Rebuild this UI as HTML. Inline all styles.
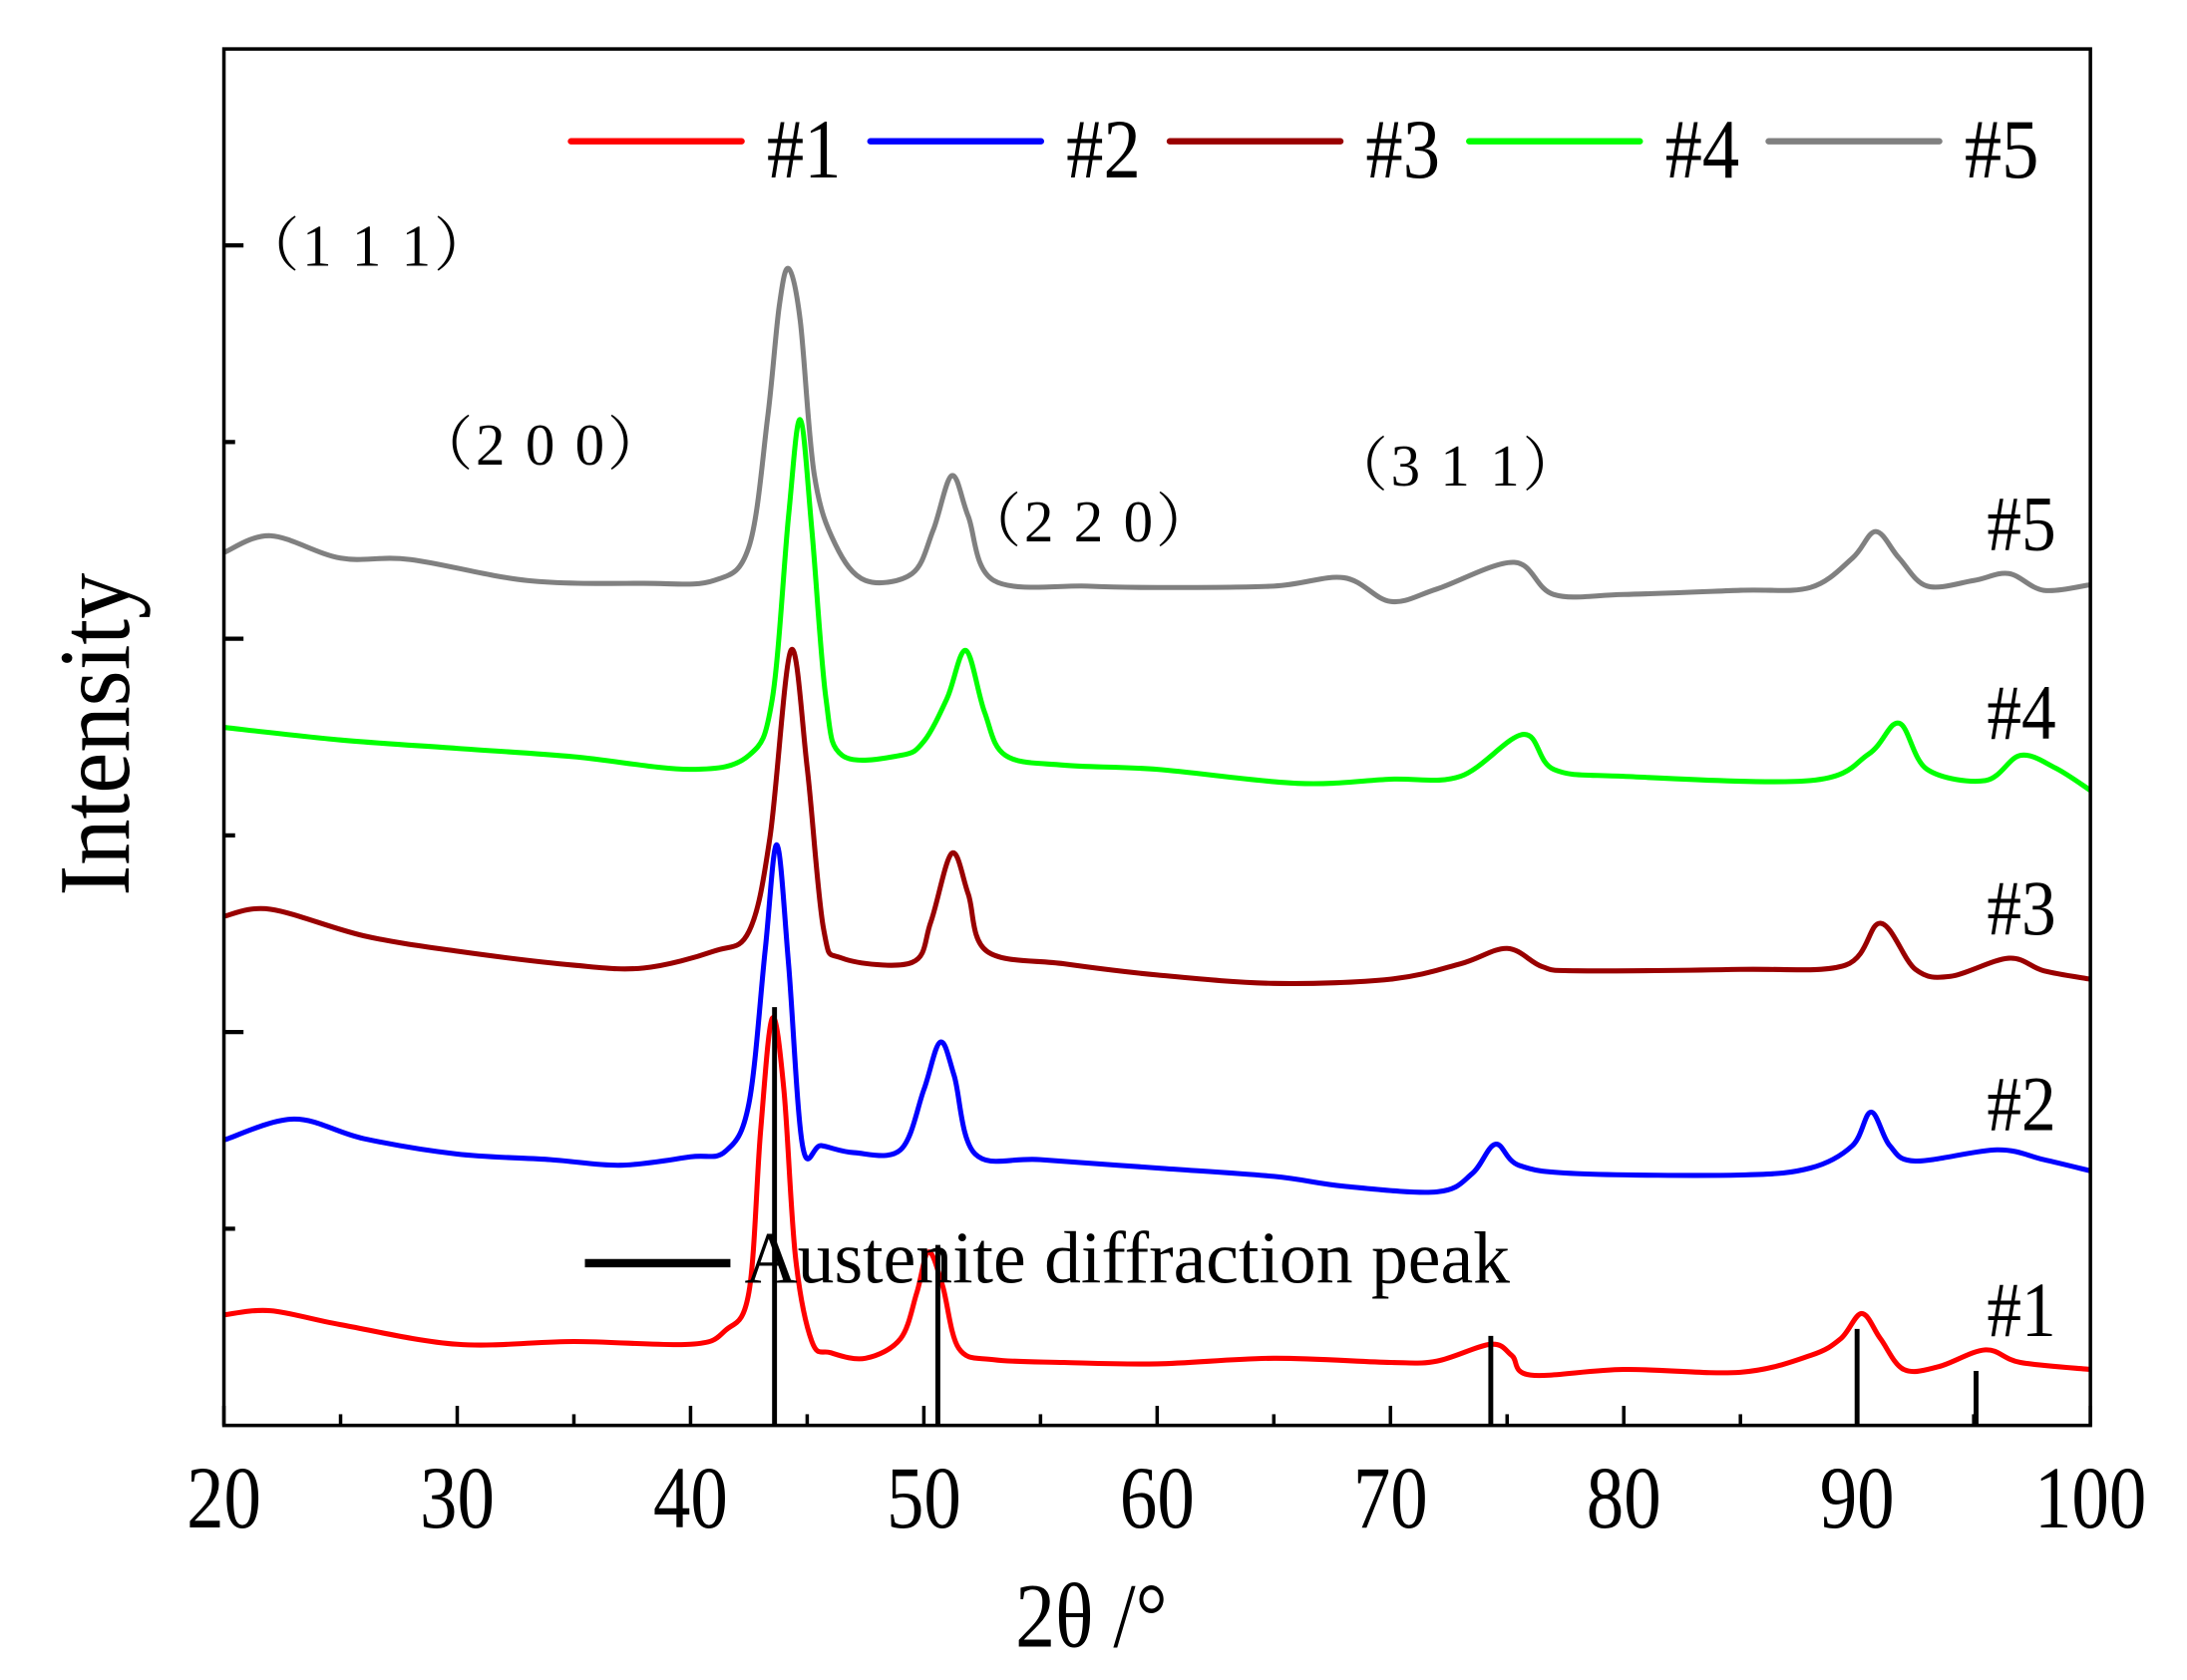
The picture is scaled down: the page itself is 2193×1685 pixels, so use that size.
<!DOCTYPE html>
<html><head><meta charset="utf-8"><style>
html,body{margin:0;padding:0;background:#fff;}
svg{display:block;font-family:"Liberation Serif","Noto Serif CJK SC",serif;}
</style></head><body>
<svg id="chart" width="2193" height="1685" viewBox="0 0 1563 1201" xmlns="http://www.w3.org/2000/svg">
<rect width="1563" height="1201" fill="#fff"/>
<g id="marks"></g>
<g id="axes"></g>
</svg>
<script>
// ---- data ----
const tickLabels = [20,30,40,50,60,70,80,90,100];
const x1 = [20,22,25,30,35,40,41.5,42.5,43.0,43.5,44.0,44.5,45.2,46,47.5,49,49.7,50.2,50.8,51.5,53,56,60,65,70,72,74.3,75.2,76,80,85,88,89.3,90.2,91,92,93.5,95.5,97,100];
const y1 = [79,82,72,58,60,58,68,95,210,291,240,120,60,52,48,62,95,124,100,55,47,45,44,48,45,46,58,50,36,40,38,50,62,80,62,40,42,54,45,40];
const x2 = [20,23,26,30,34,37,40,41.5,42.5,43.2,43.7,44.2,44.8,45.6,47,49,50,50.7,51.3,52.2,55,60,65,68,72,73.5,74.5,75.5,78,85,88,89.8,90.6,91.4,92.5,96,98,100];
const y2 = [204,219,205,194,190,186,192,196,230,340,415,330,200,200,195,197,240,274,250,194,190,184,178,171,167,180,201,186,180,179,184,200,224,200,189,197,190,182];
const x3 = [20,22,26,30,35,38,41,42.5,43.4,44.3,45.0,45.7,46.5,49.5,50.3,51.2,51.9,52.7,56,60,65,70,73,75,76.5,78,85,89.5,91,92.5,94,96.5,98,100];
const y3 = [364,369,350,339,329,327,339,353,420,554,470,355,334,331,360,409,380,339,330,322,316,319,330,341,328,325,326,329,359,326,321,334,325,319];
const x4 = [20,25,30,35,40,42.5,43.5,44.2,44.7,45.2,45.8,46.5,49,50,51,51.8,52.6,53.5,56,60,66,70,73,75.7,77,80,88,90.5,91.8,93,95.5,97,98.5,100];
const y4 = [499,490,484,478,469,479,519,650,719,640,520,479,479,489,520,554,510,479,472,469,459,462,464,494,469,464,461,480,502,469,461,479,470,454];
const x5 = [20,22,25,28,33,38,41,42.5,43.3,43.8,44.2,44.7,45.3,46.2,47.5,49.5,50.4,51.2,51.9,53,57,60,65,68,70,72,75.3,77,80,85,88,89.8,90.8,91.8,93,95,96.5,98,100];
const y5 = [624,636,620,619,604,602,604,628,720,800,827,790,680,630,604,609,640,679,650,604,600,599,600,606,589,598,617,594,594,597,599,620,639,620,600,604,609,597,601];
const refX = [43.6,50.6,74.3,90.0,95.1];
const refH = [299,129,64,69,39];
const seriesX = [x1,x2,x3,x4,x5];
const seriesY = [y1,y2,y3,y4,y5];
const colors = ["#ff0000","#0000ff","#990000","#00ff00","#808080"];
const names = ["#1","#2","#3","#4","#5"];

// ---- axes ----
const L=160,R=1494,T=35,B=1019;
const xs = v => L + (v-20)/80*(R-L);
const ys = v => B - v;
const NS="http://www.w3.org/2000/svg";
const marks=document.getElementById('marks');
const axes=document.getElementById('axes');
function mk(tag,attrs,parent){const e=document.createElementNS(NS,tag);for(const k in attrs)e.setAttribute(k,attrs[k]);parent.appendChild(e);return e;}

function smoothPath(px,py){
  let d=`M${px[0]},${py[0]}`;
  for(let i=0;i<px.length-1;i++){
    const p0x=px[Math.max(i-1,0)],p0y=py[Math.max(i-1,0)];
    const p3x=px[Math.min(i+2,px.length-1)],p3y=py[Math.min(i+2,px.length-1)];
    const c1x=px[i]+(px[i+1]-p0x)/6,c1y=py[i]+(py[i+1]-p0y)/6;
    const c2x=px[i+1]-(p3x-px[i])/6,c2y=py[i+1]-(p3y-py[i])/6;
    d+=` C${c1x},${c1y} ${c2x},${c2y} ${px[i+1]},${py[i+1]}`;
  }
  return d;
}
for(let s=4;s>=0;s--){
  const p=mk('path',{d:smoothPath(seriesX[s].map(xs),seriesY[s].map(ys)),fill:'none',stroke:colors[s],'stroke-width':3.6,'stroke-linejoin':'round'},marks);
  
  
}
refX.forEach((v,i)=>{
  const l=mk('line',{x1:xs(v),x2:xs(v),y1:ys(refH[i]),y2:B,stroke:'#000','stroke-width':3.5},marks);
  
  
});

const fr=mk('rect',{x:L,y:T,width:R-L,height:B-T,fill:'none',stroke:'#000','stroke-width':2.5},axes);


for(let v=20;v<=100;v+=5){
  const major=v%10===0;
  const t=mk('line',{x1:xs(v),x2:xs(v),y1:B,y2:B-(major?14:8),stroke:'#000','stroke-width':2.5},axes);
  
  
}
tickLabels.forEach(v=>{
  const t=mk('text',{x:xs(v),y:1092,'font-size':58,'text-anchor':'middle',transform:`translate(${xs(v)},1092) scale(0.92,1.1) translate(${-xs(v)},-1092)`},axes);
  t.textContent=v;
  
  
});
for(let i=1;i<=6;i++){
  const y=B-i*140.6, major=i%2===0;
  const t=mk('line',{x1:L,x2:L+(major?14:8),y1:y,y2:y,stroke:'#000','stroke-width':3},axes);
  
  
}
let t=mk('text',{x:0,y:0,'font-size':60,'text-anchor':'middle',transform:'translate(780,1177) scale(0.95,1.1)'},axes);
t.textContent='2θ /°';


t=mk('text',{x:0,y:0,'font-size':66,'text-anchor':'middle',transform:'translate(92,525) rotate(-90) scale(1,1.1)'},axes);
t.textContent='Intensity';


const legX=[408,622,836,1050,1264];
legX.forEach((x,i)=>{
  const l=mk('line',{x1:x,x2:x+122,y1:101,y2:101,stroke:colors[i],'stroke-width':4.5,'stroke-linecap':'round'},axes);
  
  
  const tx=mk('text',{x:0,y:0,'font-size':56,transform:`translate(${x+140},127) scale(0.95,1.08)`},axes);
  tx.textContent=names[i];
  
  
});
const lblY=[955,808,668,528,393];
lblY.forEach((y,i)=>{
  const tx=mk('text',{x:0,y:0,'font-size':52,transform:`translate(1420,${y}) scale(0.95,1.08)`},axes);
  tx.textContent=names[i];
  
  
});
const ann=[['（1 1 1）',172,190],['（2 0 0）',296,332],['（2 2 0）',688,387],['（3 1 1）',950,347]];
ann.forEach(a=>{
  const tx=mk('text',{x:a[1],y:a[2],'font-size':42,'letter-spacing':2},axes);
  tx.textContent=a[0];
  
  
});
const kb=mk('line',{x1:418,x2:522,y1:903,y2:903,stroke:'#000','stroke-width':6},axes);


const kt=mk('text',{x:0,y:0,'font-size':50,transform:'translate(532,917) scale(1.05,1.05)'},axes);
kt.textContent='Austenite diffraction peak';


</script>
</body></html>
